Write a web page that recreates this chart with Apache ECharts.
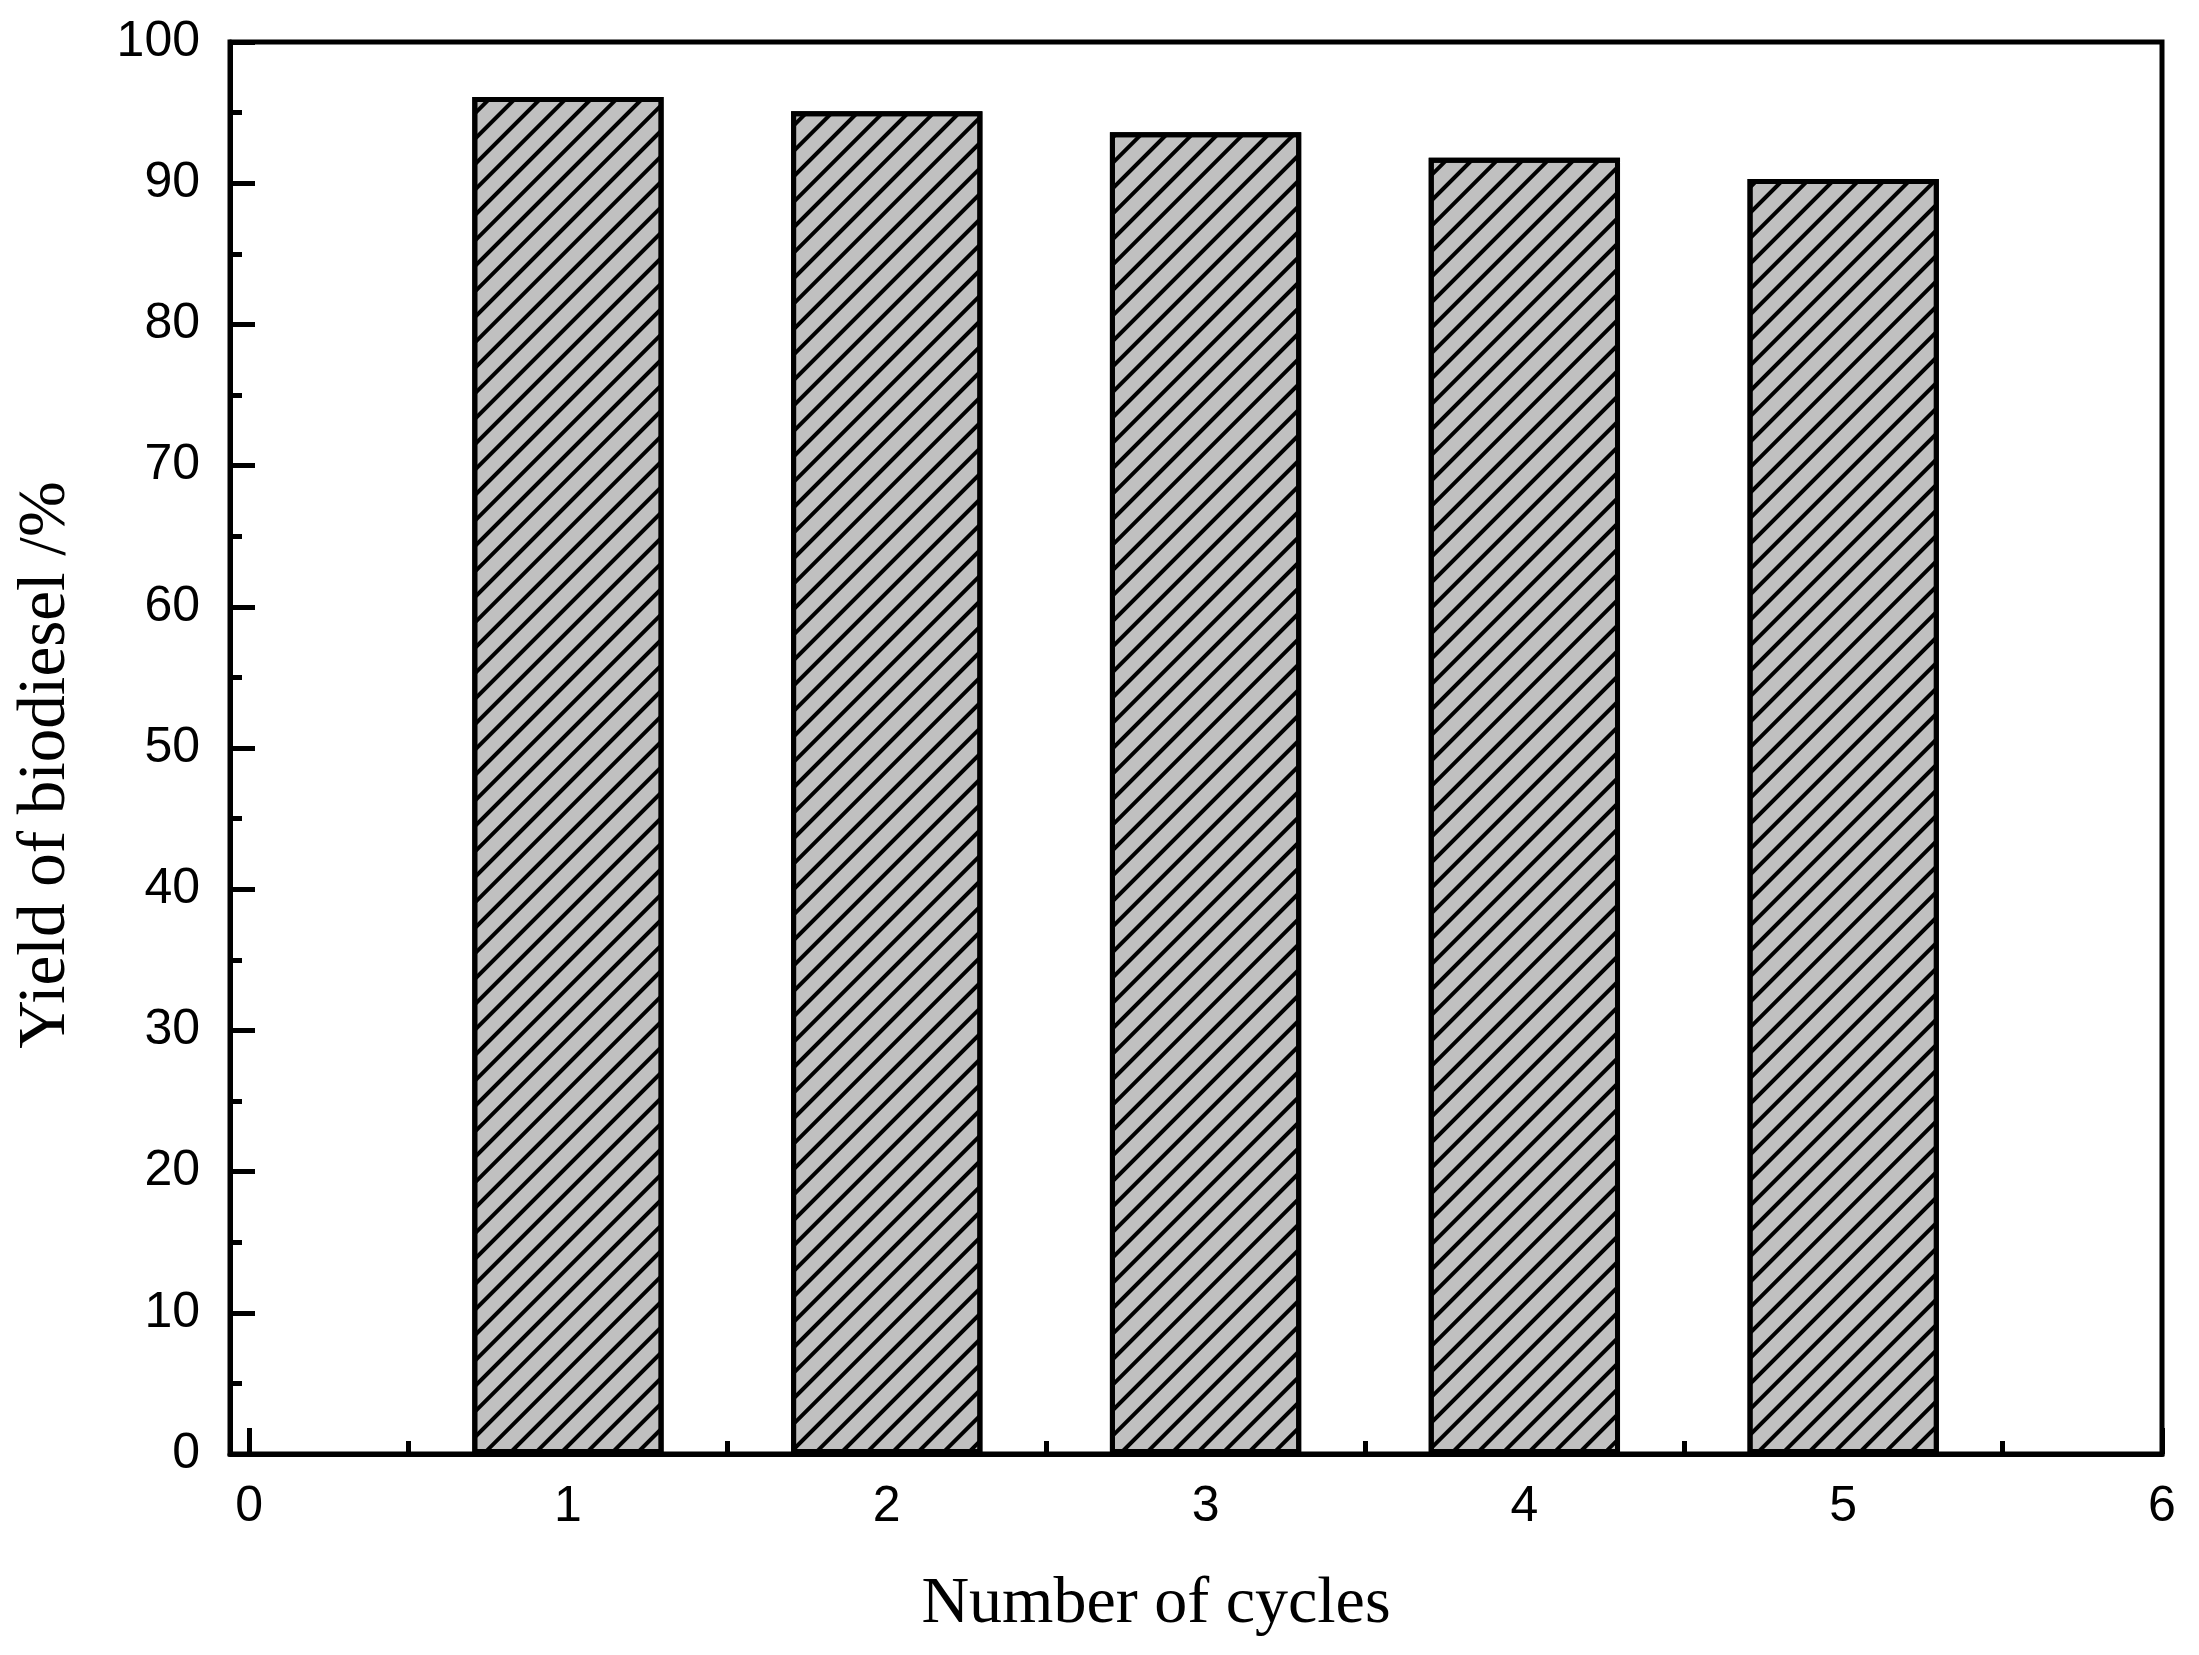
<!DOCTYPE html>
<html>
<head>
<meta charset="utf-8">
<script src="https://cdn.jsdelivr.net/npm/echarts@6/dist/echarts.min.js"></script>
<style>
html,body{margin:0;padding:0;background:#fff;}
#chart{width:2199px;height:1655px;}
</style>
</head>
<body>
<div id="chart"></div>
<script>
// Data
const cycles = [1, 2, 3, 4, 5];
const yields = [96.1, 95.1, 93.6, 91.8, 90.3];
const xMajorTicks = [0, 1, 2, 3, 4, 5, 6];
const xMinorTicks = [0.5, 1.5, 2.5, 3.5, 4.5, 5.5];
const xTitle = 'Number of cycles';
const yTitle = 'Yield of biodiesel /%';

const chart = echarts.init(document.getElementById('chart'), null, {renderer: 'canvas'});
const sans = 'Liberation Sans, Arial, sans-serif';
const serif = 'Liberation Serif, Times New Roman, serif';
const xMin = -0.06, xMax = 6;

chart.setOption({
  animation: false,
  backgroundColor: '#fff',
  grid: {left: 230, right: 37, top: 42, bottom: 201, show: true, borderColor: '#000', borderWidth: 5, backgroundColor: 'transparent'},
  xAxis: [{
    type: 'value', position: 'bottom', min: xMin, max: xMax,
    axisLine: {show: true, onZero: false, lineStyle: {color: '#000', width: 5}},
    axisTick: {show: true, inside: true, length: 26, customValues: xMajorTicks, lineStyle: {color: '#000', width: 5}},
    axisLabel: {show: true, customValues: xMajorTicks, margin: 28, color: '#000', fontFamily: sans, fontSize: 50},
    splitLine: {show: false},
    name: xTitle, nameLocation: 'middle', nameGap: 118,
    nameTextStyle: {fontFamily: serif, fontSize: 66, color: '#000', padding: [0, 80, 0, 0]}
  }, {
    type: 'value', position: 'bottom', min: xMin, max: xMax,
    axisLine: {show: false},
    axisTick: {show: true, inside: true, length: 13, customValues: xMinorTicks, lineStyle: {color: '#000', width: 5}},
    axisLabel: {show: false},
    splitLine: {show: false}
  }],
  yAxis: {
    type: 'value', min: 0, max: 100, interval: 10,
    axisLine: {show: true, onZero: false, lineStyle: {color: '#000', width: 5}},
    axisTick: {show: true, inside: true, length: 25, lineStyle: {color: '#000', width: 5}},
    minorTick: {show: true, splitNumber: 2, length: 12, lineStyle: {color: '#000', width: 5}},
    axisLabel: {margin: 30, color: '#000', fontFamily: sans, fontSize: 50},
    splitLine: {show: false},
    name: yTitle, nameLocation: 'middle', nameGap: 150, nameRotate: 90,
    nameTextStyle: {fontFamily: serif, fontSize: 67, color: '#000', padding: [0, 34, 0, 0]}
  },
  series: [{
    type: 'bar',
    xAxisIndex: 0,
    data: cycles.map((c, i) => [c, yields[i]]),
    barWidth: '60%',
    itemStyle: {
      color: '#c0c0c0', borderColor: '#000', borderWidth: 5,
      decal: {symbol: 'rect', symbolSize: 1, color: '#000', dashArrayX: [1, 0], dashArrayY: [4, 14], rotation: -Math.PI / 4}
    }
  }]
});
</script>
</body>
</html>
